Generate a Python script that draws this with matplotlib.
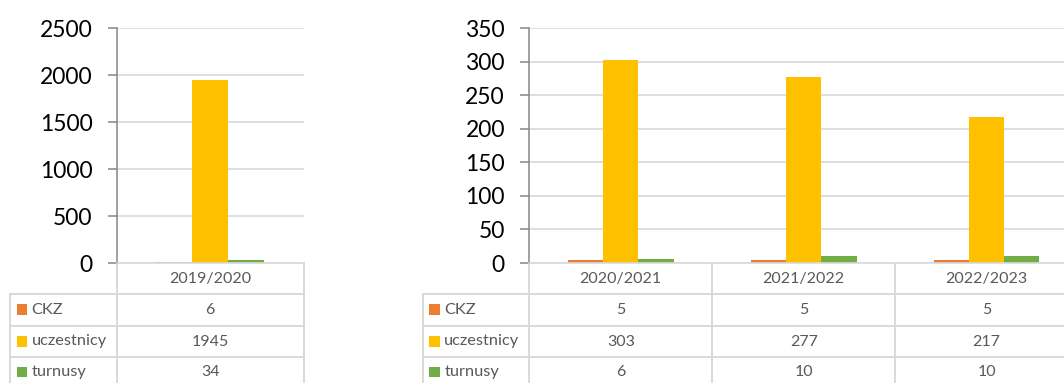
import numpy as np
import matplotlib
matplotlib.use("Agg")
import matplotlib.pyplot as plt

plt.rcParams["font.family"] = ["Lato", "DejaVu Sans"]

# --- data ---
series = ["CKZ", "uczestnicy", "turnusy"]
colors = ["#ED7D31", "#FFC000", "#70AD47"]

left_years = ["2019/2020"]
left_ckz = [6]
left_uczestnicy = [1945]
left_turnusy = [34]

right_years = ["2020/2021", "2021/2022", "2022/2023"]
right_ckz = [5, 5, 5]
right_uczestnicy = [303, 277, 217]
right_turnusy = [6, 10, 10]

W, H = 1064, 383
GRID = "#d9d9d9"
AXIS = "#868686"
TXT = "#595959"

fig = plt.figure(figsize=(W / 100, H / 100), dpi=100)
canvas = fig.add_axes([0, 0, 1, 1])
canvas.set_xlim(0, W)
canvas.set_ylim(H, 0)
canvas.axis("off")

Y_TOP, Y_ZERO = 28.3, 263.0
ROWS = [263.0, 294.0, 325.7, 357.3, H + 5]


def px_axes(x0, y0, x1, y1):
    return fig.add_axes([x0 / W, 1 - y1 / H, (x1 - x0) / W, (y1 - y0) / H])


def panel(x_lab, x_axis, x_right, years, values, ymax, ystep):
    n = len(years)
    ax = px_axes(x_axis, Y_TOP, x_right, Y_ZERO)
    ax.set_facecolor("none")
    w = 0.193
    x = np.arange(n)
    for k, (vals, c) in enumerate(zip(values, colors)):
        ax.bar(x + (k - 1) * w, vals, width=w, color=c, linewidth=0, zorder=2)
    ax.set_xlim(-0.5, n - 0.5)
    ax.set_ylim(0, ymax)
    ax.set_yticks(np.arange(0, ymax + 1, ystep))
    ax.yaxis.grid(True, color=GRID, linewidth=1.2)
    ax.set_axisbelow(True)
    ax.set_xticks([])
    for s in ("top", "right"):
        ax.spines[s].set_visible(False)
    ax.spines["left"].set_color(AXIS)
    ax.spines["left"].set_linewidth(1.1)
    ax.spines["bottom"].set_color(GRID)
    ax.spines["bottom"].set_linewidth(1.2)
    ax.tick_params(axis="y", length=6.5, width=1.1, color=AXIS,
                   labelsize=16.5, pad=11, labelcolor="black")

    # data table under the plot
    col_w = (x_right - x_axis) / n
    cols = [x_axis + i * col_w for i in range(n + 1)]
    for xv in cols:
        canvas.plot([xv, xv], [ROWS[0], ROWS[-1]], color=GRID, lw=1.4)
    canvas.plot([x_lab, x_lab], [ROWS[1], ROWS[-1]], color=GRID, lw=1.4)
    for yv in ROWS[1:4]:
        canvas.plot([x_lab, cols[-1]], [yv, yv], color=GRID, lw=1.4)
    for i, yr in enumerate(years):
        xc = (cols[i] + cols[i + 1]) / 2
        canvas.text(xc, (ROWS[0] + ROWS[1]) / 2 + 1, yr, ha="center",
                    va="center", fontsize=11.5, color=TXT)
        for r, vals in enumerate(values):
            yc = (ROWS[r + 1] + ROWS[r + 2]) / 2 if r < 2 else 372
            canvas.text(xc, yc, str(vals[i]), ha="center", va="center",
                        fontsize=11.5, color=TXT)
    for r, (name, c) in enumerate(zip(series, colors)):
        yc = (ROWS[r + 1] + ROWS[r + 2]) / 2 if r < 2 else 372
        canvas.add_patch(plt.Rectangle((x_lab + 6.5, yc - 5.5), 10.5, 10.5,
                                       color=c, lw=0))
        canvas.text(x_lab + 21.5, yc, name, ha="left", va="center",
                    fontsize=11.8, color=TXT)


panel(10, 117, 303.5, left_years,
      [left_ckz, left_uczestnicy, left_turnusy], 2500, 500)
panel(422.7, 529.3, 1078, right_years,
      [right_ckz, right_uczestnicy, right_turnusy], 350, 50)

fig.savefig("out.png", dpi=100)
